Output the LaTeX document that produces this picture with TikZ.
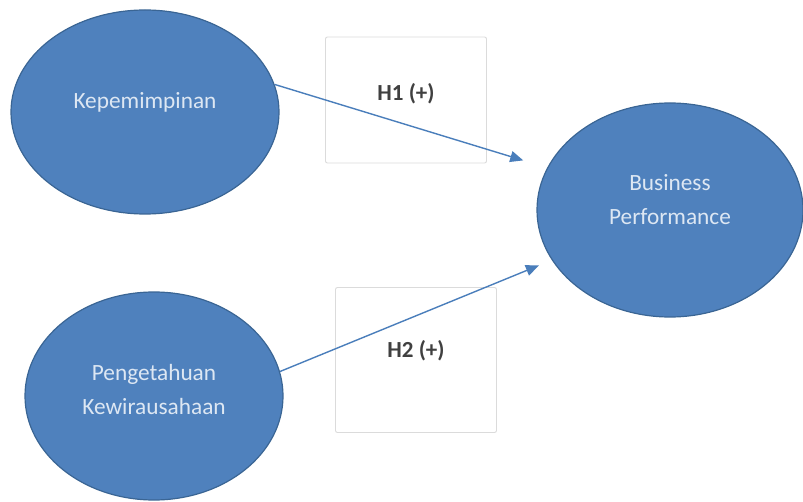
\documentclass[tikz,border=0pt]{standalone}
\usepackage{fontspec}
\setmainfont{Carlito}
\usetikzlibrary{arrows.meta, positioning, shapes.geometric}
\definecolor{varfill}{HTML}{4F81BD}
\definecolor{varedge}{HTML}{3A6594}
\definecolor{vartext}{HTML}{DDE7F3}
\definecolor{linkblue}{HTML}{4A7EBB}
\tikzset{%
	var/.style={draw=varedge, fill=varfill, ellipse, line width=1.2pt, inner sep=0pt,%
		text=vartext, align=center, font=\fontsize{23.3}{34}\selectfont},
	hyp/.style={draw=black!14, fill=white, rectangle, rounded corners=2pt, line width=0.9pt,%
		minimum width=161pt, inner sep=0pt, text=black!75, font=\fontsize{23}{26}\selectfont\bfseries},
	link/.style={-{Triangle[length=13pt, width=11pt]}, draw=linkblue, line width=1.4pt}
}

\begin{document}
\begin{tikzpicture}[x=1pt, y=-1pt]
	\useasboundingbox (0,0) rectangle (803,502);

	\node[var, minimum width=268pt, minimum height=204pt, text depth=24pt] (kep) at (145,112) {Kepemimpinan};
	\node[var, minimum width=258pt, minimum height=208pt, text depth=14pt] (peng) at (154,396) {Pengetahuan\\Kewirausahaan};
	\node[var, minimum width=266pt, minimum height=214pt, text depth=21pt] (bp) at (670,210) {Business\\Performance};

	\node[hyp, minimum height=126pt, text depth=16pt] (h1) at (406,100) {H1 (+)};
	\node[hyp, minimum height=145pt, text depth=23pt] (h2) at (416,360) {H2 (+)};

	\draw[link, shorten >=25pt] (kep.12) -- (bp.161);
	\draw[link, shorten >=14pt] (peng.11) -- (bp.203);
\end{tikzpicture}
\end{document}
